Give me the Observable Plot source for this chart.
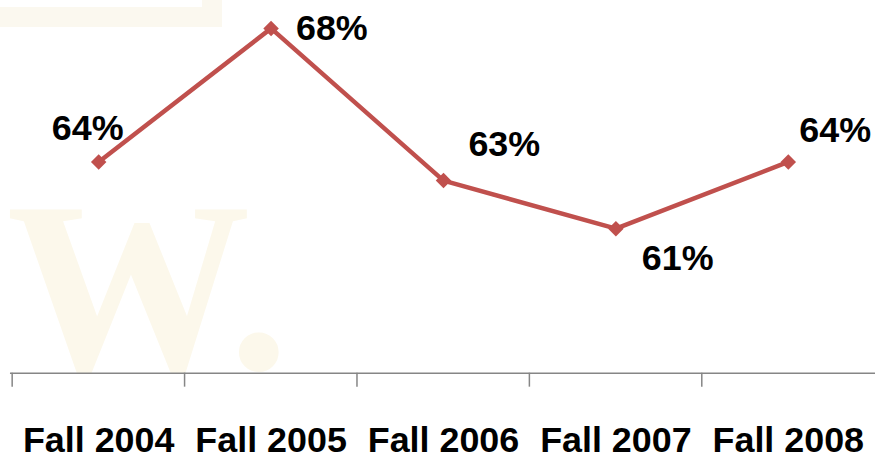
<!DOCTYPE html>
<html>
<head>
<meta charset="utf-8">
<script src="https://cdn.jsdelivr.net/npm/d3@7"></script>
<script src="https://cdn.jsdelivr.net/npm/@observablehq/plot@0.6"></script>
<style>
  html, body { margin: 0; padding: 0; background: #ffffff; overflow: hidden; width: 875px; height: 469px; }
  #wrap { position: relative; width: 875px; height: 469px; }
  #logo { position: absolute; left: 0; top: 0; width: 222px; height: 27px; background: #fbf8ef; }
  #logo-inner { position: absolute; left: 0; top: 0; width: 202px; height: 7px; background: #ffffff; }
  #chart { position: absolute; left: 0; top: 0; }
</style>
</head>
<body>
<div id="wrap">
  <div id="logo"><div id="logo-inner"></div></div>
  <div id="chart"></div>
</div>
<script>
const categories = ["Fall 2004", "Fall 2005", "Fall 2006", "Fall 2007", "Fall 2008"];
const rates = [0.636, 0.679, 0.630, 0.6145, 0.636];
const watermark = ["W."];

const data = categories.map((c, i) => ({term: c, rate: rates[i], i}));
const fmt = d3.format(".0%");
const red = "#c0504d";
const font = "'Liberation Sans', Arial, sans-serif";
const step = (878 - 10) / categories.length;

// label placement per point (relative to the marker)
const labelOffsets = [
  {dx: -47, dy: -34},
  {dx: 25, dy: 0},
  {dx: 25, dy: -36},
  {dx: 26, dy: 30},
  {dx: 11, dy: -32}
];

const chart = Plot.plot({
  width: 878,
  height: 469,
  marginTop: 0,
  marginBottom: 95,
  marginLeft: 10,
  marginRight: 0,
  style: {background: "transparent", fontFamily: font, overflow: "visible"},
  x: {type: "band", domain: categories, padding: 0, label: null},
  y: {domain: [0.56797, 0.68798], axis: null, label: null},
  marks: [
    Plot.text(watermark, {
      frameAnchor: "bottom-left", text: d => d, dx: -4, dy: -4,
      fontFamily: "'Liberation Serif', 'DejaVu Serif', serif", fontWeight: "bold",
      fontSize: 245, fill: "#fcf8eb", lineAnchor: "bottom", textAnchor: "start"
    }),
    Plot.ruleY([0.56797], {stroke: "#868686", strokeWidth: 1.5}),
    Plot.axisX({tickSize: 14, dx: -step / 2, tickFormat: () => "", label: null, stroke: "#868686", strokeWidth: 1.5}),
    Plot.axisX({tickSize: 0, tickPadding: 53, label: null, fontSize: 36, fontWeight: "bold", fill: "#000", fontFamily: font}),
    Plot.line(data, {x: "term", y: "rate", stroke: red, strokeWidth: 4.5}),
    Plot.dot(data, {x: "term", y: "rate", symbol: "diamond2", r: 7, fill: red, stroke: "none"}),
    ...data.map((d, k) => Plot.text([d], {
      x: "term", y: "rate", text: v => fmt(v.rate),
      dx: labelOffsets[k].dx, dy: labelOffsets[k].dy,
      textAnchor: "start", lineAnchor: "middle",
      fontSize: 36, fontWeight: "bold", fill: "#000", fontFamily: font
    }))
  ]
});
document.getElementById("chart").appendChild(chart);
</script>
</body>
</html>
